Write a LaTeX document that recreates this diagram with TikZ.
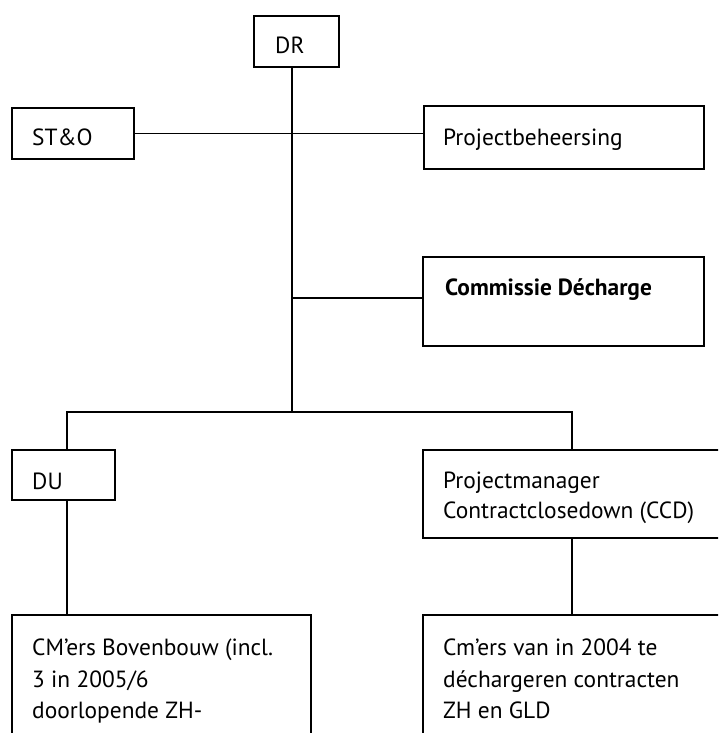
\documentclass[tikz,border=0pt]{standalone}
\usepackage{fontspec}
\setmainfont{PT Sans}
\begin{document}
\begin{tikzpicture}[x=1pt,y=-1pt,
  box/.style={draw=black,line width=1.8pt,rectangle,inner sep=0pt,anchor=north west},
  conn/.style={draw=black,line width=1.3pt},
  lbl/.style={anchor=base west,inner sep=0pt,font=\fontsize{23.4}{28}\selectfont}]
\clip (0,0) rectangle (718,733);
\fill[white] (0,0) rectangle (718,733);
% boxes
\node[box,minimum width=85pt,minimum height=51pt] (dr) at (253,15) {};
\node[box,minimum width=122pt,minimum height=51pt] (sto) at (11,107) {};
\node[box,minimum width=280pt,minimum height=63pt] (pb) at (423,105) {};
\node[box,minimum width=281pt,minimum height=89pt] (cd) at (422,256) {};
\node[box,minimum width=103pt,minimum height=50pt] (du) at (11,449) {};
\node[box,minimum width=320pt,minimum height=88pt] (pm) at (422,449) {};
\node[box,minimum width=299pt,minimum height=140pt] (cm1) at (11,614) {};
\node[box,minimum width=320pt,minimum height=140pt] (cm2) at (422,614) {};
% labels
\node[lbl] (tdr) at (275,54) {DR};
\node[lbl] (tsto) at (32,146) {ST\&O};
\node[lbl] (tpb) at (443,145) {Projectbeheersing};
\node[lbl,font=\fontsize{23.4}{28}\selectfont\bfseries] (tcd) at (445,295) {Commissie Décharge};
\node[lbl] (tdu) at (32,489) {DU};
\node[lbl] (tpma) at (443,488) {Projectmanager};
\node[lbl] (tpmb) at (443,518) {Contractclosedown (CCD)};
\node[lbl] (tcma) at (32,655) {CM’ers Bovenbouw (incl.};
\node[lbl] (tcmb) at (32,687) {3 in 2005/6};
\node[lbl] (tcmc) at (32,718) {doorlopende ZH-};
\node[lbl] (tcna) at (443,655) {Cm’ers van in 2004 te};
\node[lbl] (tcnb) at (443,687) {déchargeren contracten};
\node[lbl] (tcnc) at (443,718) {ZH en GLD};
% junctions
\coordinate (tk) at (292,412);
\coordinate (bl) at (67,412);
\coordinate (br) at (572,412);
% connectors
\draw[conn] (dr.south -| tk) -- (tk);
\draw[conn] (sto.east) -- (sto.east -| pb.west);
\draw[conn] (tk |- 0,298) -- (cd.west |- 0,298);
\draw[conn] (du.north -| bl) -- (bl) -- (br) -- (pm.north -| br);
\draw[conn] (du.south -| bl) -- (cm1.north -| bl);
\draw[conn] (pm.south -| br) -- (cm2.north -| br);
\end{tikzpicture}
\end{document}
